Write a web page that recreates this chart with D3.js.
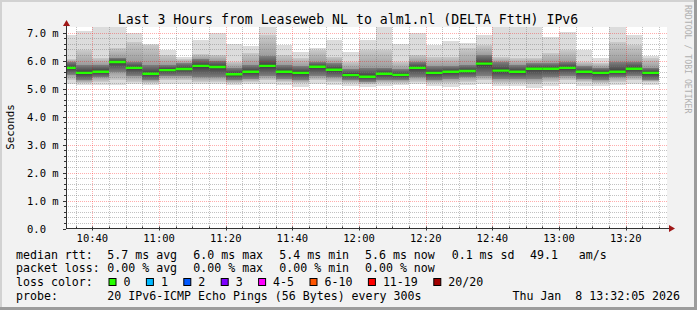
<!DOCTYPE html>
<html>
<head>
<meta charset="UTF-8">
<title>SmokePing - Last 3 Hours</title>
<script src="https://cdnjs.cloudflare.com/ajax/libs/d3/7.8.5/d3.min.js"></script>
<style>
  body { margin: 0; background: #f2f2f2; }
  svg { display: block; font-family: "DejaVu Sans Mono", monospace; }
  text { white-space: pre; }
</style>
</head>
<body>
<div id="chart"></div>
<script>
// 5 minute steps, each value is the end of the step (first step is clipped on the left)
const stepEnds = d3.range(36).map(i => new Date(2026, 0, 8, 10, 35 + 5 * i));

// median rtt per step (ms)
const median = [5.74, 5.56, 5.60, 5.95, 5.74, 5.53, 5.66, 5.70, 5.81, 5.77, 5.51, 5.60,
                5.81, 5.60, 5.56, 5.78, 5.67, 5.48, 5.42, 5.53, 5.49, 5.74, 5.56, 5.60,
                5.63, 5.89, 5.64, 5.60, 5.71, 5.71, 5.74, 5.60, 5.56, 5.60, 5.71, 5.56];
// smoke bands (ms): highest ping, edge of mid grey, edge of dark grey, below median
const smokeHi = [6.90, 7.05, 7.20, 7.20, 7.00, 6.59, 6.38, 6.13, 6.73, 6.98, 6.59, 6.52,
                 7.20, 6.55, 6.30, 6.45, 6.73, 6.30, 6.75, 7.20, 6.59, 6.98, 6.55, 6.70,
                 6.62, 6.92, 7.20, 7.20, 7.20, 6.84, 7.02, 6.37, 6.08, 7.20, 6.90, 6.16];
const smokeU2 = [6.05, 6.37, 6.09, 6.45, 6.67, 6.55, 6.20, 6.05, 6.23, 6.20, 5.96, 6.27,
                 6.90, 6.20, 6.09, 6.37, 6.14, 5.96, 6.37, 6.37, 5.96, 6.20, 6.14, 6.14,
                 6.45, 6.55, 6.12, 6.09, 6.09, 6.27, 6.37, 5.95, 5.91, 6.66, 6.55, 6.09];
const smokeU1 = [5.95, 5.85, 5.85, 6.10, 5.95, 5.85, 5.85, 5.90, 6.05, 6.00, 5.75, 5.85,
                 6.15, 5.85, 5.80, 5.95, 5.90, 5.70, 5.75, 5.75, 5.70, 5.95, 5.80, 5.80,
                 5.85, 6.20, 5.95, 5.85, 5.90, 5.90, 5.95, 5.80, 5.75, 5.95, 5.95, 5.75];
const smokeL1 = [5.50, 5.30, 5.40, 5.60, 5.45, 5.30, 5.45, 5.45, 5.40, 5.40, 5.30, 5.35,
                 5.45, 5.35, 5.30, 5.45, 5.40, 5.30, 5.25, 5.30, 5.30, 5.40, 5.30, 5.35,
                 5.40, 5.45, 5.35, 5.35, 5.35, 5.40, 5.45, 5.35, 5.30, 5.40, 5.45, 5.30];
const smokeL2 = [5.30, 5.20, 5.25, 5.30, 5.25, 5.20, 5.30, 5.30, 5.25, 5.25, 5.20, 5.25,
                 5.30, 5.25, 5.20, 5.30, 5.25, 5.20, 5.15, 5.20, 5.20, 5.25, 5.20, 5.20,
                 5.25, 5.30, 5.20, 5.20, 5.15, 5.25, 5.30, 5.25, 5.20, 5.25, 5.30, 5.25];
const smokeLo = [5.18, 5.12, 5.12, 5.12, 5.15, 5.12, 5.18, 5.18, 5.15, 5.15, 5.12, 5.15,
                 5.15, 5.12, 5.05, 5.15, 5.12, 5.10, 5.05, 5.10, 5.12, 5.15, 5.10, 5.05,
                 5.12, 5.15, 5.08, 5.08, 5.02, 5.10, 5.15, 5.10, 5.08, 5.12, 5.15, 5.12];

const yTicks = [0, 1, 2, 3, 4, 5, 6, 7];
const yTickLabels = ['0.0', '1.0 m', '2.0 m', '3.0 m', '4.0 m', '5.0 m', '6.0 m', '7.0 m'];

const title = 'Last 3 Hours from Leaseweb NL to alm1.nl (DELTA FttH) IPv6';
const rttLine = ['median rtt:', '5.7 ms avg', '6.0 ms max', '5.4 ms min', '5.6 ms now', '0.1 ms sd', '49.1   am/s'];
const lossLine = ['packet loss:', '0.00 % avg', '0.00 % max', '0.00 % min', '0.00 % now'];
const lossLabels = ['0', '1', '2', '3', '4-5', '6-10', '11-19', '20/20'];
const lossColors = ['#26ff00', '#00b8ff', '#0059ff', '#7e00ff', '#ff00ff', '#ff5500', '#ff0000', '#a10000'];
const probeText = '20 IPv6-ICMP Echo Pings (56 Bytes) every 300s';
const stampText = 'Thu Jan  8 13:32:05 2026';

const width = 697, height = 310;
const plot = {left: 66, right: 666, top: 27, bottom: 228.5};

const svg = d3.select('#chart').append('svg')
    .attr('width', width)
    .attr('height', height);

// frame
svg.append('rect').attr('width', width).attr('height', height).attr('fill', '#f2f2f2');
svg.append('rect').attr('x', 0).attr('y', 0).attr('width', width).attr('height', 2).attr('fill', '#d2d2d2');
svg.append('rect').attr('x', 0).attr('y', 0).attr('width', 2).attr('height', height).attr('fill', '#d2d2d2');
svg.append('rect').attr('x', 0).attr('y', height - 3).attr('width', width).attr('height', 3).attr('fill', '#9c9c9c');
svg.append('rect').attr('x', width - 3).attr('y', 0).attr('width', 3).attr('height', height).attr('fill', '#9c9c9c');

const x = d3.scaleTime()
    .domain([new Date(2026, 0, 8, 10, 32, 5), new Date(2026, 0, 8, 13, 32, 5)])
    .range([plot.left, plot.right]);
const y = d3.scaleLinear()
    .domain([0, 7.2])
    .range([plot.bottom, plot.top]);

// canvas
svg.append('rect')
    .attr('x', plot.left).attr('y', plot.top)
    .attr('width', plot.right - plot.left + 1).attr('height', plot.bottom - plot.top)
    .attr('fill', '#ffffff');

const defs = svg.append('defs');
defs.append('clipPath').attr('id', 'clip').append('rect')
    .attr('x', plot.left).attr('y', plot.top)
    .attr('width', plot.right - plot.left).attr('height', plot.bottom - plot.top);

function grad(id, c0, c1) {
    const g = defs.append('linearGradient').attr('id', id)
        .attr('x1', 0).attr('y1', 0).attr('x2', 0).attr('y2', 1);
    g.append('stop').attr('offset', 0).attr('stop-color', c0);
    g.append('stop').attr('offset', 1).attr('stop-color', c1);
}
grad('midUp', '#cacaca', '#9c9c9c');
grad('darkUp', '#808080', '#3c3c3c');
grad('darkDn', '#3c3c3c', '#808080');
grad('midDn', '#9c9c9c', '#cacaca');

// smoke
const steps = stepEnds.map((t, i) => ({
    t0: d3.timeMinute.offset(t, -5), t1: t,
    med: median[i], hi: smokeHi[i], u2: smokeU2[i], u1: smokeU1[i],
    l1: smokeL1[i], l2: smokeL2[i], lo: smokeLo[i]
}));

const bands = [
    ['hi', 'u2', '#dcdcdc'],
    ['u2', 'u1', 'url(#midUp)'],
    ['u1', 'med', 'url(#darkUp)'],
    ['med', 'l1', 'url(#darkDn)'],
    ['l1', 'l2', 'url(#midDn)'],
    ['l2', 'lo', '#dcdcdc']
];

const smoke = svg.append('g').attr('clip-path', 'url(#clip)');
bands.forEach(([a, b, fill]) => {
    smoke.append('g').selectAll('rect')
        .data(steps)
        .join('rect')
        .attr('x', d => x(d.t0))
        .attr('width', d => x(d.t1) - x(d.t0))
        .attr('y', d => y(d[a]))
        .attr('height', d => y(d[b]) - y(d[a]))
        .attr('fill', fill)
        .attr('shape-rendering', 'crispEdges');
});

// grid on top of the smoke
const grid = svg.append('g').attr('stroke-dasharray', '1,1').attr('stroke-width', 1);
const minorT = x.ticks(d3.timeMinute.every(5)).filter(t => t.getMinutes() % 20 !== 0);
const majorT = x.ticks(d3.timeMinute.every(20));
const minorV = d3.range(0, 36).map(i => i * 0.2).filter(v => Math.abs(v - Math.round(v)) > 1e-6 && v < 7.2);
const px = v => Math.round(v) + 0.5;

grid.selectAll('.vmin').data(minorT).join('line')
    .attr('x1', d => px(x(d))).attr('x2', d => px(x(d)))
    .attr('y1', plot.top).attr('y2', plot.bottom)
    .attr('stroke', 'rgba(120,120,120,0.45)');
grid.selectAll('.hmin').data(minorV).join('line')
    .attr('x1', plot.left).attr('x2', plot.right + 2)
    .attr('y1', d => px(y(d))).attr('y2', d => px(y(d)))
    .attr('stroke', 'rgba(120,120,120,0.45)');
grid.selectAll('.vmaj').data(majorT).join('line')
    .attr('x1', d => px(x(d))).attr('x2', d => px(x(d)))
    .attr('y1', plot.top).attr('y2', plot.bottom)
    .attr('stroke', 'rgba(255,0,0,0.32)');
grid.selectAll('.hmaj').data(yTicks.slice(1)).join('line')
    .attr('x1', plot.left).attr('x2', plot.right + 2)
    .attr('y1', d => px(y(d))).attr('y2', d => px(y(d)))
    .attr('stroke', 'rgba(255,0,0,0.32)');

// median line, coloured by loss (all steps had 0 loss)
svg.append('g').attr('clip-path', 'url(#clip)').selectAll('line')
    .data(steps)
    .join('line')
    .attr('x1', d => x(d.t0)).attr('x2', d => x(d.t1))
    .attr('y1', d => y(d.med)).attr('y2', d => y(d.med))
    .attr('stroke', lossColors[0])
    .attr('stroke-width', 2.4);

// axes
const axisCol = '#333333';
const ax = svg.append('g');
ax.selectAll('.ty').data(d3.range(0, 36).map(i => i * 0.2)).join('line')
    .attr('x1', (d, i) => i % 5 === 0 ? plot.left - 3 : plot.left - 2).attr('x2', plot.left)
    .attr('y1', d => px(y(d))).attr('y2', d => px(y(d)))
    .attr('stroke', axisCol);
ax.selectAll('.tx').data(x.ticks(d3.timeMinute.every(5))).join('line')
    .attr('x1', d => px(x(d))).attr('x2', d => px(x(d)))
    .attr('y1', plot.bottom - 2).attr('y2', d => d.getMinutes() % 20 === 0 ? plot.bottom + 2 : plot.bottom)
    .attr('stroke', axisCol);
ax.append('line')
    .attr('x1', plot.left + 0.5).attr('x2', plot.left + 0.5)
    .attr('y1', 24).attr('y2', plot.bottom + 0.5)
    .attr('stroke', axisCol);
ax.append('line')
    .attr('x1', plot.left).attr('x2', 670)
    .attr('y1', plot.bottom).attr('y2', plot.bottom)
    .attr('stroke', axisCol);
ax.append('path')
    .attr('d', `M${plot.left + 0.5},20 L${plot.left + 4},26 L${plot.left - 3},26 Z`)
    .attr('fill', '#a01818');
ax.append('path')
    .attr('d', `M675,${plot.bottom} L669,${plot.bottom - 3.5} L669,${plot.bottom + 3.5} Z`)
    .attr('fill', '#a01818');

// tick labels
svg.append('g').selectAll('text').data(yTicks).join('text')
    .attr('x', 27).attr('y', d => y(d) + 4)
    .attr('font-size', '10.5px').attr('fill', '#000')
    .text((d, i) => yTickLabels[i]);
svg.append('g').selectAll('text').data(majorT).join('text')
    .attr('x', d => x(d)).attr('y', 242)
    .attr('text-anchor', 'middle')
    .attr('font-size', '10.5px').attr('fill', '#000')
    .text(d3.timeFormat('%H:%M'));

// titles
svg.append('text')
    .attr('x', 348).attr('y', 23.5)
    .attr('text-anchor', 'middle')
    .attr('font-size', '13.2px').attr('fill', '#000')
    .text(title);
svg.append('text')
    .attr('transform', 'translate(14,127) rotate(-90)')
    .attr('text-anchor', 'middle')
    .attr('font-size', '10.8px').attr('fill', '#000')
    .text('Seconds');
svg.append('text')
    .attr('transform', 'translate(685,5) rotate(90)')
    .attr('font-size', '8.2px').attr('fill', '#b0b0b0')
    .text('RRDTOOL / TOBI OETIKER');

// legend
const legend = svg.append('g').attr('font-size', '11.6px').attr('fill', '#000');
const itemX = [16, 107.3, 193.3, 279.3, 365, 451.7, 530];
rttLine.forEach((s, i) => legend.append('text').attr('x', itemX[i]).attr('y', 258.5).text(s));
lossLine.forEach((s, i) => legend.append('text').attr('x', itemX[i]).attr('y', 272).text(s));
legend.append('text').attr('x', 16).attr('y', 286).text('loss color:');
let bx = 108.5;
lossLabels.forEach((s, i) => {
    legend.append('rect')
        .attr('x', bx + 0.5).attr('y', 278.5).attr('width', 7).attr('height', 7)
        .attr('fill', lossColors[i]).attr('stroke', '#000').attr('stroke-width', 1);
    legend.append('text').attr('x', bx + 15).attr('y', 286).text(s);
    bx = bx + 15 + s.length * 7 + 15.4;
});
legend.append('text').attr('x', 16).attr('y', 299.5).text('probe:');
legend.append('text').attr('x', 107.3).attr('y', 299.5).text(probeText);
legend.append('text').attr('x', 680).attr('y', 299.5).attr('text-anchor', 'end').text(stampText);
</script>
</body>
</html>
